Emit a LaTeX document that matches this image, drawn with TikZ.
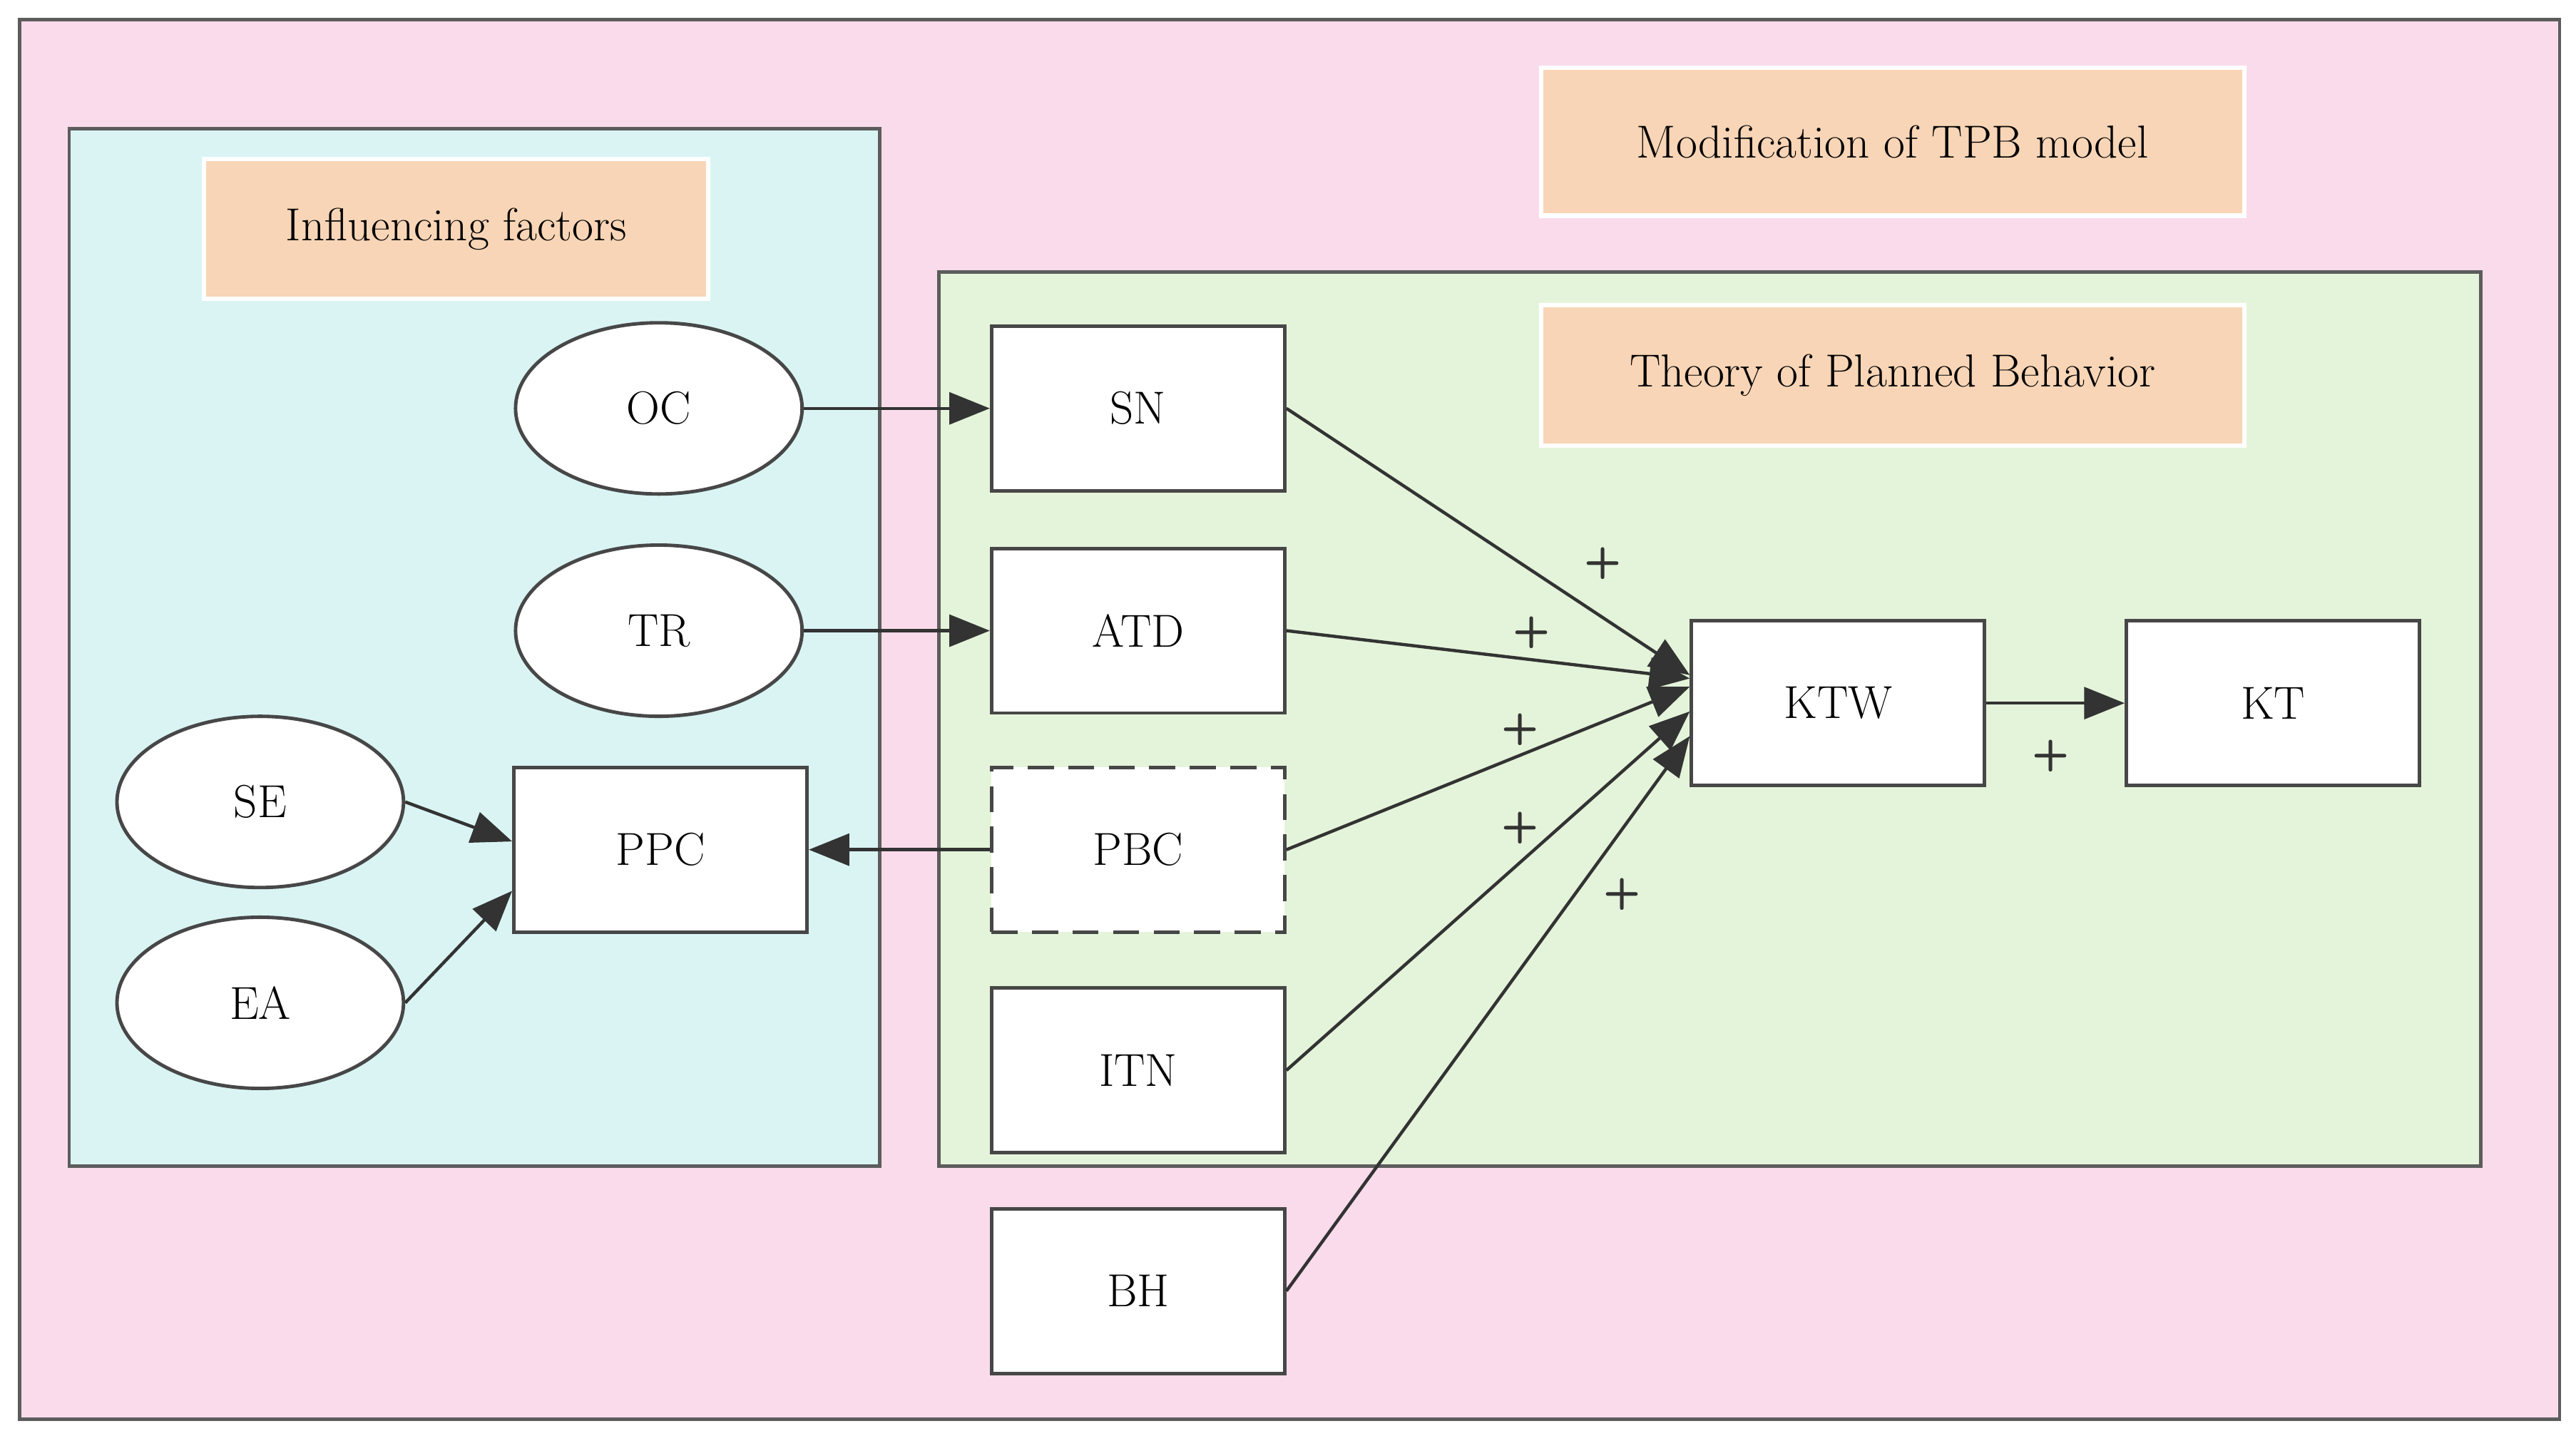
\documentclass[tikz,border=0pt]{standalone}
\usepackage[]{xcolor}
\usetikzlibrary{arrows.meta}
\definecolor{bgpink}{HTML}{FADBEB}
\definecolor{bgblue}{HTML}{DAF4F4}
\definecolor{bggreen}{HTML}{E4F4DA}
\definecolor{tagorange}{HTML}{F8D5B6}
\definecolor{edgegray}{HTML}{333333}
\tikzset{
  frame/.style={draw=edgegray!80, line width=1.2pt},
  tag/.style={fill=tagorange, draw=white, line width=1.5pt, minimum height=1.7cm, inner sep=0pt},
  box/.style={draw=edgegray!90, fill=white, line width=1.2pt, minimum width=3.56cm, minimum height=2cm, inner sep=0pt},
  oval/.style={ellipse, draw=edgegray!90, fill=white, line width=1.2pt, minimum width=3.48cm, minimum height=2.08cm, inner sep=0pt},
  link/.style={draw=edgegray, line width=1.1pt, -{Triangle[length=14pt,width=11pt]}},
  plus/.style={font=\sffamily\bfseries\fontsize{15}{17}\selectfont, text=edgegray}
}
\usetikzlibrary{shapes.geometric}
\begin{document}
\begin{tikzpicture}[x=0.02cm, y=-0.02cm, font=\fontsize{16}{18}\selectfont]
    \useasboundingbox (0,0) rectangle (1564,869);
    % The clusters
    \fill[white] (0,0) rectangle (1564,869);
    \draw[frame, fill=bgpink] (12,12) rectangle (1554,862);
    \draw[frame, fill=bgblue] (42,78) rectangle (534,708);
    \draw[frame, fill=bggreen] (570,165) rectangle (1506,708);
    % The titles
    \node[tag, minimum width=6.12cm] (tagIF) at (277,139) {Influencing factors};
    \node[tag, minimum width=8.54cm, minimum height=1.8cm] (tagMOD) at (1149,86) {Modification of TPB model};
    \node[tag, minimum width=8.54cm] (tagTPB) at (1149,228) {Theory of Planned Behavior};
    % Factors
    \node[oval] (OC) at (400,248) {OC};
    \node[oval] (TR) at (400,383) {TR};
    \node[oval] (SE) at (158,487) {SE};
    \node[oval] (EA) at (158,609) {EA};
    \node[box] (PPC) at (401,516) {PPC};
    % TPB constructs
    \node[box] (SN) at (691,248) {SN};
    \node[box] (ATD) at (691,383) {ATD};
    \node[box, dash pattern=on 9pt off 5pt] (PBC) at (691,516) {PBC};
    \node[box] (ITN) at (691,650) {ITN};
    \node[box] (BH) at (691,784) {BH};
    \node[box] (KTW) at (1116,427) {KTW};
    \node[box] (KT) at (1380,427) {KT};
    % Links
    \draw[link] (OC) -- (SN);
    \draw[link] (TR) -- (ATD);
    \draw[link] (PBC) -- (PPC);
    \draw[link] (SE.east) -- ([yshift=0.1cm]PPC.west);
    \draw[link] (EA.east) -- ([yshift=-0.5cm]PPC.west);
    \draw[link] (SN.east) -- ([yshift=0.34cm]KTW.west);
    \draw[link] (ATD.east) -- ([yshift=0.3cm]KTW.west);
    \draw[link] (PBC.east) -- ([yshift=0.2cm]KTW.west);
    \draw[link] (ITN.east) -- ([yshift=-0.1cm]KTW.west);
    \draw[link] (BH.east) -- ([yshift=-0.4cm]KTW.west);
    \draw[link] (KTW) -- (KT);
    % Signs
    \node[plus] (p1) at (973,342) {+};
    \node[plus] (p2) at (930,384) {+};
    \node[plus] (p3) at (923,443) {+};
    \node[plus] (p4) at (923,503) {+};
    \node[plus] (p5) at (985,543) {+};
    \node[plus] (p6) at (1245,459) {+};
\end{tikzpicture}
\end{document}
